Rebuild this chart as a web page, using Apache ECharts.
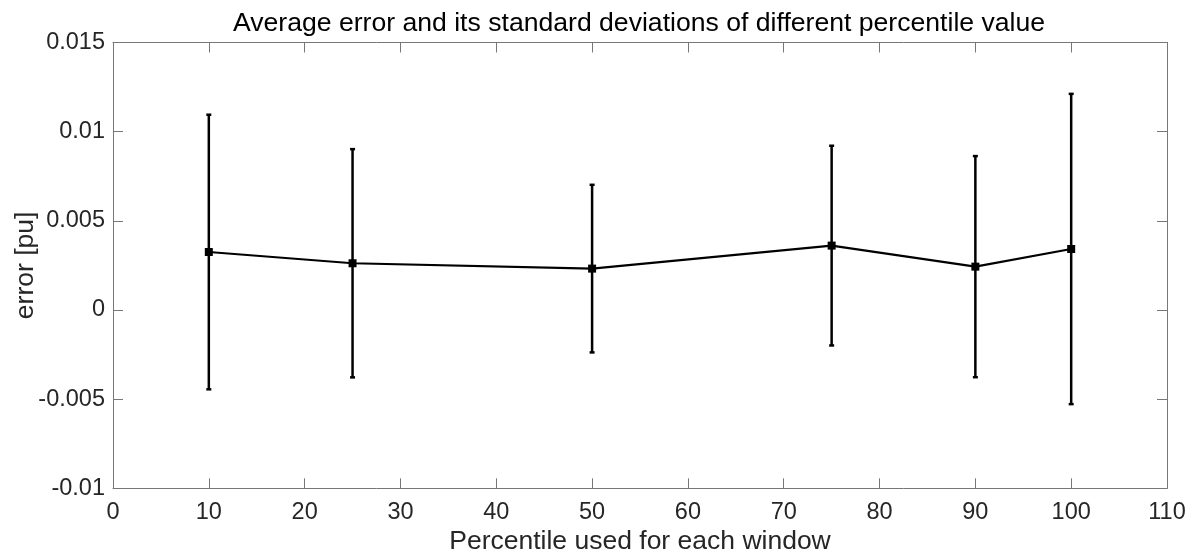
<!DOCTYPE html>
<html>
<head>
<meta charset="utf-8">
<script src="https://cdn.jsdelivr.net/npm/echarts@6/dist/echarts.min.js"></script>
<style>
html,body{margin:0;padding:0;background:#fff;}
#chart{width:1191px;height:552px;}
</style>
</head>
<body>
<div id="chart"></div>
<script>
// Data
const percentiles = [10, 25, 50, 75, 90, 100];
const meanError = [0.00325, 0.00262, 0.00232, 0.00361, 0.00243, 0.00342];
const stdError = [0.0077, 0.0064, 0.0047, 0.0056, 0.0062, 0.0087];
const titleText = 'Average error and its standard deviations of different percentile value';
const xName = 'Percentile used for each window';
const yName = 'error [pu]';

const lineData = percentiles.map((p, i) => [p, meanError[i]]);
const barData = percentiles.map((p, i) => [p, meanError[i] - stdError[i], meanError[i] + stdError[i]]);

const FONT = '"Liberation Sans", Arial, Helvetica, sans-serif';
const TXT = '#262626';
const AX = '#777777';

const chart = echarts.init(document.getElementById('chart'), null, {renderer: 'canvas'});

const fmtY = v => {
  const r = Math.round(v * 1000) / 1000;
  return r === 0 ? '0' : String(r);
};

chart.setOption({
  animation: false,
  backgroundColor: '#ffffff',
  title: {
    text: titleText,
    left: 634, top: 5, textAlign: 'center',
    textStyle: {fontFamily: FONT, fontSize: 26.6, fontWeight: 'normal', color: '#000'}
  },
  grid: {left: 113, right: 24, top: 42.5, bottom: 63.7, containLabel: false, outerBoundsMode: 'none'},
  xAxis: [{
    type: 'value', min: 0, max: 110, interval: 10,
    name: xName, nameLocation: 'middle', nameGap: 40, nameMoveOverlap: false,
    nameTextStyle: {fontFamily: FONT, fontSize: 26.5, color: TXT},
    axisLine: {show: true, onZero: false, lineStyle: {color: AX, width: 1}},
    axisTick: {show: true, inside: true, length: 10, lineStyle: {color: AX, width: 1}},
    axisLabel: {fontFamily: FONT, fontSize: 23.5, color: TXT, margin: 12},
    splitLine: {show: false}
  }, {
    type: 'value', min: 0, max: 110, interval: 10, position: 'top',
    axisLine: {show: true, onZero: false, lineStyle: {color: AX, width: 1}},
    axisTick: {show: true, inside: true, length: 10, lineStyle: {color: AX, width: 1}},
    axisLabel: {show: false}, splitLine: {show: false}
  }],
  yAxis: [{
    type: 'value', min: -0.01, max: 0.015, interval: 0.005,
    name: yName, nameLocation: 'middle', nameGap: 74, nameRotate: 90, nameMoveOverlap: false,
    nameTextStyle: {fontFamily: FONT, fontSize: 26.5, color: TXT},
    axisLine: {show: true, onZero: false, lineStyle: {color: AX, width: 1}},
    axisTick: {show: true, inside: true, length: 10, lineStyle: {color: AX, width: 1}},
    axisLabel: {fontFamily: FONT, fontSize: 23.5, color: TXT, margin: 8, formatter: fmtY},
    splitLine: {show: false}
  }, {
    type: 'value', min: -0.01, max: 0.015, interval: 0.005, position: 'right',
    axisLine: {show: true, onZero: false, lineStyle: {color: AX, width: 1}},
    axisTick: {show: true, inside: true, length: 10, lineStyle: {color: AX, width: 1}},
    axisLabel: {show: false}, splitLine: {show: false}
  }],
  series: [{
    type: 'custom',
    xAxisIndex: 0, yAxisIndex: 0,
    data: barData,
    renderItem: function (params, api) {
      const x = api.value(0);
      const lo = api.coord([x, api.value(1)]);
      const hi = api.coord([x, api.value(2)]);
      const cap = 2.5;
      const style = {stroke: '#000', lineWidth: 2.5};
      return {
        type: 'group',
        children: [
          {type: 'line', shape: {x1: lo[0], y1: lo[1], x2: hi[0], y2: hi[1]}, style: style},
          {type: 'line', shape: {x1: lo[0] - cap, y1: lo[1], x2: lo[0] + cap, y2: lo[1]}, style: style},
          {type: 'line', shape: {x1: hi[0] - cap, y1: hi[1], x2: hi[0] + cap, y2: hi[1]}, style: style}
        ]
      };
    },
    z: 2
  }, {
    type: 'line',
    xAxisIndex: 0, yAxisIndex: 0,
    data: lineData,
    symbol: 'rect', symbolSize: 8,
    itemStyle: {color: '#000'},
    lineStyle: {color: '#000', width: 2.2},
    z: 3
  }]
});
</script>
</body>
</html>
